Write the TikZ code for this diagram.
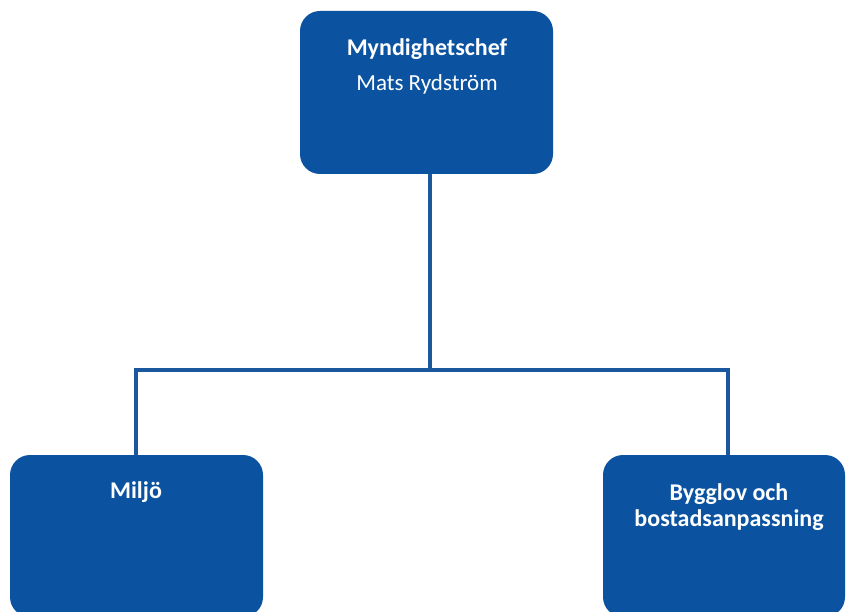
\documentclass[tikz,border=0pt]{standalone}
\usepackage{fontspec}
\setmainfont{Carlito}
\definecolor{boxblue}{HTML}{0B53A0}
\definecolor{lineblue}{HTML}{1B579C}
\begin{document}
\begin{tikzpicture}[x=1pt,y=-1pt,
  orgbox/.style={fill=boxblue, draw=none, rounded corners=20pt},
  lbl/.style={text=white, font=\fontsize{24}{26}\selectfont\bfseries, align=center, inner sep=0pt},
  sublbl/.style={text=white, font=\fontsize{23}{26}\selectfont, inner sep=0pt},
  conn/.style={draw=lineblue, line width=4pt}]
\useasboundingbox (0,0) rectangle (848,612);
\begin{scope}
\clip (0,0) rectangle (848,612);
\fill[orgbox] (300,11) rectangle (553,174);
\fill[orgbox] (10,455) rectangle (263,617);
\fill[orgbox] (603,455) rectangle (845,617);
\end{scope}
\coordinate (topc) at (430,174);
\coordinate (leftc) at (136,455);
\coordinate (rightc) at (728,455);
\node[lbl] (chef) at (427,49) {Myndighetschef};
\node[sublbl] (mats) at (427,84) {Mats Rydström};
\node[lbl] (miljo) at (136,492) {Miljö};
\node[lbl] (bygg) at (729,507) {Bygglov och\\bostadsanpassning};
\coordinate (mid) at (430,370);
\coordinate (hl) at (136,370);
\coordinate (hr) at (728,370);
\draw[conn] (topc) -- (mid);
\draw[conn, line cap=rect] (hl) -- (hr);
\draw[conn] (hl) -- (leftc);
\draw[conn] (hr) -- (rightc);
\end{tikzpicture}
\end{document}
